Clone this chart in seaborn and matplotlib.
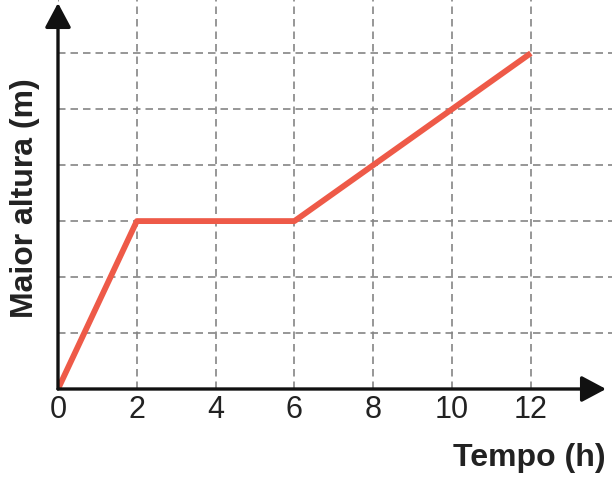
import matplotlib
matplotlib.use("Agg")
import matplotlib.pyplot as plt
import seaborn as sns
import pandas as pd

tempo = [0, 2, 6, 12]
altura = [0, 3, 3, 6]
x_ticks = [0, 2, 4, 6, 8, 10, 12]
y_grid = [1, 2, 3, 4, 5, 6]

sns.set_style("white")
plt.rcParams['font.family'] = ['Liberation Sans', 'DejaVu Sans']

fig = plt.figure(figsize=(6.12, 4.8), dpi=100)
ax = fig.add_axes([58/612, 91/480, 1 - 58/612, 389/480])

df = pd.DataFrame({"Tempo": tempo, "Altura": altura})
sns.lineplot(data=df, x="Tempo", y="Altura", ax=ax, color="#EE5A48",
             linewidth=4.2, solid_capstyle="butt", zorder=3)

ax.set_xlim(0, 14.06)
ax.set_ylim(0, 6.95)
ax.set_xticks(x_ticks)
ax.set_xticklabels([str(t) for t in x_ticks], fontsize=22, color="#222222")
ax.set_yticks(y_grid)
ax.set_yticklabels([])
ax.tick_params(axis="both", length=0, pad=4)
ax.set_xlabel("")
ax.set_ylabel("")
for s in ax.spines.values():
    s.set_visible(False)

ax.grid(True, color="#858585", linestyle=(0, (4.5, 3)), linewidth=1.2)

# axes arrows
ax.annotate("", xy=(606/612, 91/480), xytext=(58/612, 91/480),
            xycoords="figure fraction", textcoords="figure fraction",
            arrowprops=dict(arrowstyle="-|>,head_length=1.5,head_width=0.8",
                            color="#111111", lw=2.4, shrinkA=0, shrinkB=0),
            annotation_clip=False, zorder=5)
ax.annotate("", xy=(58/612, 1 - 3/480), xytext=(58/612, 91/480),
            xycoords="figure fraction", textcoords="figure fraction",
            arrowprops=dict(arrowstyle="-|>,head_length=1.5,head_width=0.8",
                            color="#111111", lw=2.4, shrinkA=0, shrinkB=0),
            annotation_clip=False, zorder=5)

fig.text(606/612, 1 - 458/480, "Tempo (h)", ha="right", va="center",
         fontsize=23, fontweight="bold", color="#222222")
fig.text(25/612, 1 - 198/480, "Maior altura (m)", ha="center", va="center",
         rotation=90, fontsize=23, fontweight="bold", color="#222222")

fig.savefig("out.png", dpi=100)
